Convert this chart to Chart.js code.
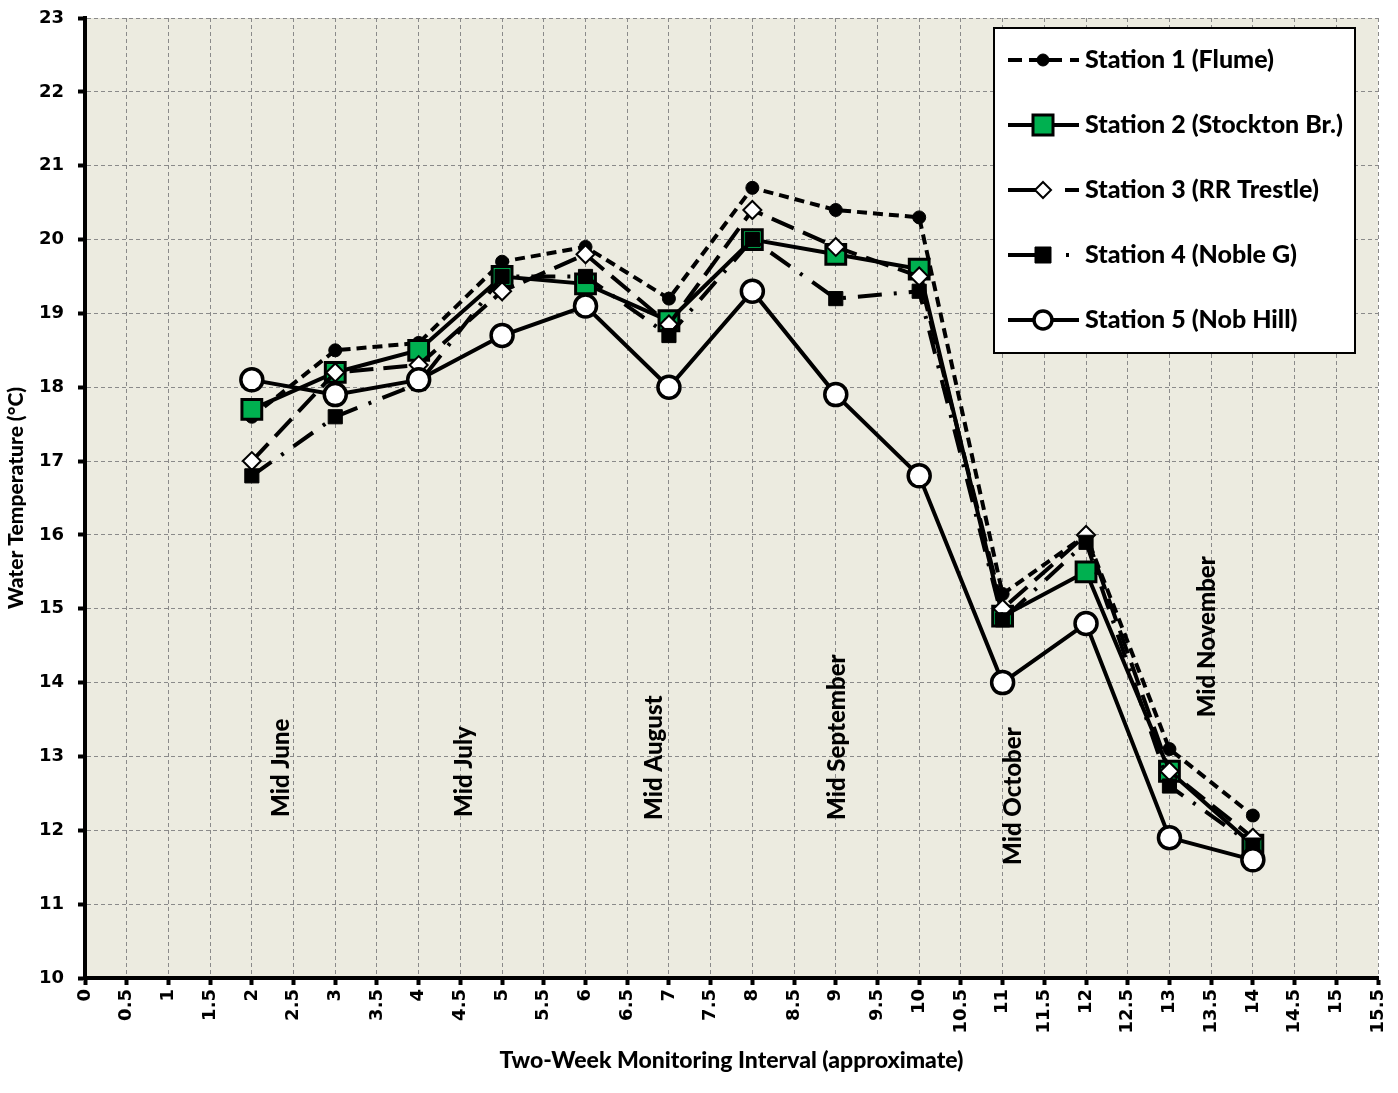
<!DOCTYPE html>
<html><head><meta charset="utf-8">
<script src="https://cdn.jsdelivr.net/npm/chart.js@4/dist/chart.umd.min.js"></script>
<style>html,body{margin:0;padding:0;background:#fff;}#wrap{width:1398px;height:1093px;}</style>
</head><body><div id="wrap"><canvas id="c" width="1398" height="1093"></canvas></div>
<script>
const intervals = [2,3,4,5,6,7,8,9,10,11,12,13,14];
const station1 = [17.6,18.5,18.6,19.7,19.9,19.2,20.7,20.4,20.3,15.2,16.0,13.1,12.2];
const station2 = [17.7,18.2,18.5,19.5,19.4,18.9,20.0,19.8,19.6,14.9,15.5,12.8,11.8];
const station3 = [17.0,18.2,18.3,19.3,19.8,18.85,20.4,19.9,19.5,15.0,16.0,12.8,11.9];
const station4 = [16.8,17.6,18.05,19.5,19.5,18.7,20.0,19.2,19.3,14.85,15.9,12.6,11.8];
const station5 = [18.1,17.9,18.1,18.7,19.1,18.0,19.3,17.9,16.8,14.0,14.8,11.9,11.6];
const seriesNames = ['Station 1 (Flume)','Station 2 (Stockton Br.)','Station 3 (RR Trestle)','Station 4 (Noble G)','Station 5 (Nob Hill)'];
const monthLabels = ['Mid June','Mid July','Mid August','Mid September','Mid October','Mid November'];
const monthX = [2.35,4.55,6.82,9.02,11.13,13.45];
const monthYBottom = [12.18,12.18,12.14,12.14,11.53,13.53];
const xTitle = 'Two-Week Monitoring Interval (approximate)';
const yTitle = 'Water Temperature (°C)';

const CAL = 'Lato, "Noto Sans", sans-serif';
const TICKF = '"DejaVu Sans", Verdana, sans-serif';

function pts(arr){ return intervals.map((x,i)=>({x:x,y:arr[i]})); }

const styles = [
  {dash:[10,6], pointStyle:'circle', radius:6.5, bg:'#000', bw:1},
  {dash:[], pointStyle:'rect', radius:14, bg:'#00B050', bw:3},
  {dash:[24,10], pointStyle:'rectRot', radius:9, bg:'#fff', bw:2},
  {dash:[24,12,3,12], pointStyle:'rect', radius:10, bg:'#000', bw:1},
  {dash:[], pointStyle:'circle', radius:11, bg:'#fff', bw:3.5}
];
const seriesData = [station1,station2,station3,station4,station5];

const datasets = seriesData.map((arr,i)=>({
  label: seriesNames[i],
  data: pts(arr),
  borderColor:'#000',
  borderWidth:4,
  borderDash: styles[i].dash,
  pointStyle: styles[i].pointStyle,
  pointRadius: styles[i].radius,
  pointBackgroundColor: styles[i].bg,
  pointBorderColor:'#000',
  pointBorderWidth: styles[i].bw,
  fill:false,
  tension:0,
  order: 5-i
}));

const bgPlugin = {
  id:'bg',
  beforeDraw(chart){
    const {ctx, chartArea:a} = chart;
    ctx.save();
    ctx.fillStyle = '#ECEBE0';
    ctx.fillRect(a.left, a.top, a.right-a.left, a.bottom-a.top);
    ctx.restore();
  },
  beforeDatasetsDraw(chart){
    const {ctx, scales} = chart;
    ctx.save();
    ctx.fillStyle = '#000';
    ctx.font = '900 24px ' + CAL;
    ctx.textAlign = 'left';
    ctx.textBaseline = 'middle';
    monthLabels.forEach((t,i)=>{
      const px = scales.x.getPixelForValue(monthX[i]);
      const py = scales.y.getPixelForValue(monthYBottom[i]);
      ctx.save();
      ctx.translate(px, py);
      ctx.rotate(-Math.PI/2);
      ctx.fillText(t, 0, 0);
      ctx.restore();
    });
    ctx.restore();
  },
  afterDraw(chart){
    const ctx = chart.ctx;
    ctx.save();
    ctx.fillStyle = '#fff';
    ctx.fillRect(994, 28, 361, 325);
    ctx.strokeStyle = '#000';
    ctx.lineWidth = 2;
    ctx.strokeRect(994, 28, 361, 325);
    const ys = [60,125,190,255,320];
    const segs = [
      [[1008,1022],[1029,1062],[1070,1079]],
      [[1008,1079]],
      [[1008,1040],[1065,1079]],
      [[1008,1040],[1066,1069]],
      [[1008,1079]]
    ];
    ys.forEach((y,i)=>{
      ctx.strokeStyle = '#000';
      ctx.lineWidth = 4;
      ctx.setLineDash([]);
      ctx.lineCap = 'butt';
      segs[i].forEach(s=>{
        ctx.beginPath(); ctx.moveTo(s[0], y); ctx.lineTo(s[1], y); ctx.stroke();
      });
      const st = styles[i];
      const mx = 1043;
      ctx.fillStyle = st.bg;
      ctx.lineWidth = st.bw;
      ctx.beginPath();
      if (st.pointStyle === 'circle') {
        const r = i===4 ? 9 : 6;
        ctx.arc(mx, y, r, 0, Math.PI*2);
      } else if (st.pointStyle === 'rect') {
        const h = i===1 ? 10 : 8;
        ctx.rect(mx-h, y-h, 2*h, 2*h);
      } else {
        const r = 8;
        ctx.moveTo(mx, y-r); ctx.lineTo(mx+r, y); ctx.lineTo(mx, y+r); ctx.lineTo(mx-r, y); ctx.closePath();
      }
      ctx.fill();
      ctx.stroke();
      ctx.fillStyle = '#000';
      ctx.font = '900 25px ' + CAL;
      ctx.textAlign = 'left';
      ctx.textBaseline = 'middle';
      ctx.fillText(seriesNames[i], 1085, y);
    });
    ctx.restore();
  }
};

new Chart(document.getElementById('c'), {
  type:'line',
  data:{datasets},
  plugins:[bgPlugin],
  options:{
    responsive:false,
    animation:false,
    devicePixelRatio:1,
    layout:{padding:{top:18,right:20,left:0,bottom:0}},
    plugins:{legend:{display:false}, tooltip:{enabled:false}},
    scales:{
      x:{
        type:'linear', min:0, max:15.5,
        afterFit(s){ s.height = 115; s.paddingLeft = 0; s.paddingRight = 0; },
        ticks:{stepSize:0.5, autoSkip:false, minRotation:90, maxRotation:90, padding:4, color:'#000',
          callback:(v)=>String(Math.round(v*10)/10),
          font:{family:TICKF, size:18, weight:'bold'}},
        grid:{color:'#8a8a8a', lineWidth:1, tickColor:'#000', tickWidth:4, tickLength:7, tickBorderDash:[]},
        border:{display:true, color:'#000', width:4, dash:[4,3]},
        title:{display:true, text:xTitle, color:'#000', font:{family:CAL, size:23, weight:'900'}, padding:{top:4,bottom:19}}
      },
      y:{
        type:'linear', min:10, max:23,
        afterFit(s){ s.width = 85; s.paddingTop = 0; s.paddingBottom = 0; },
        ticks:{stepSize:1, color:'#000', padding:14, font:{family:TICKF, size:18, weight:'bold'}},
        grid:{color:'#8a8a8a', lineWidth:1, tickColor:'#000', tickWidth:4, tickLength:7, tickBorderDash:[]},
        border:{display:true, color:'#000', width:4, dash:[4,3]},
        title:{display:true, text:yTitle, color:'#000', font:{family:CAL, size:21, weight:'900'}, padding:{top:4,bottom:0}}
      }
    }
  }
});
</script></body></html>
